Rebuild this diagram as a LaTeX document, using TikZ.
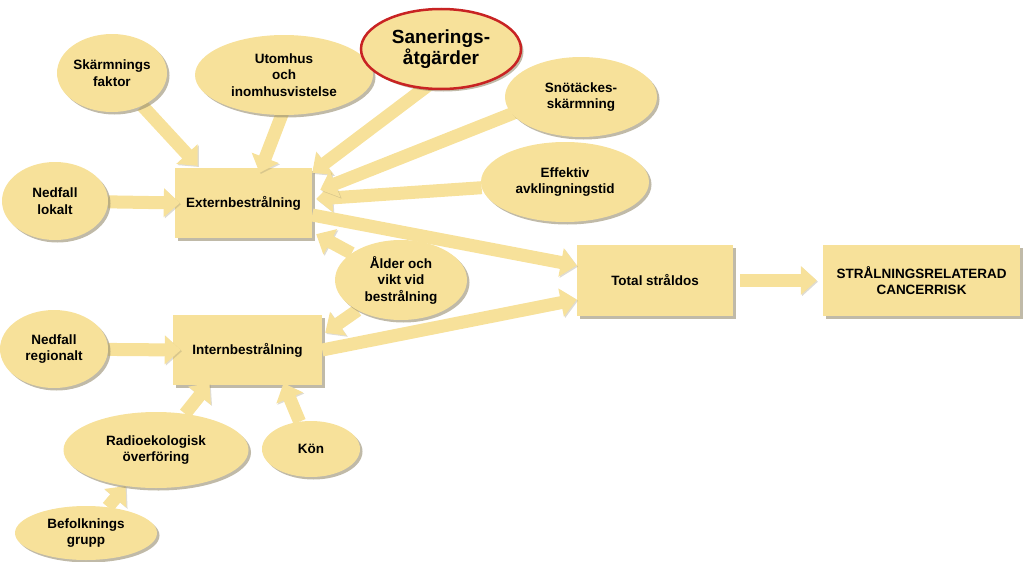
\documentclass[tikz,border=0pt]{standalone}
\usepackage{fontspec}
\setmainfont{Liberation Sans}
\usetikzlibrary{arrows.meta,shapes.geometric,shadows}
\definecolor{blobfill}{RGB}{247,225,154}
\definecolor{shade}{RGB}{150,140,110}
\definecolor{saneborder}{RGB}{200,35,35}
\pgfdeclarelayer{front}
\pgfsetlayers{main,front}
\tikzset {
  >=Triangle,
  every node/.style={font=\bfseries\fontsize{13.5}{16.5}\selectfont, align=center},
  blob/.style={ellipse, fill=blobfill, inner sep=0pt,
    drop shadow={shadow xshift=2.5pt, shadow yshift=-2.5pt, fill=shade, opacity=.6}},
  box/.style={rectangle, fill=blobfill, inner sep=0pt,
    drop shadow={shadow xshift=2.5pt, shadow yshift=-2.5pt, fill=shade, opacity=.6}},
  fat/.style={line width=13pt, draw=blobfill, -{Triangle[length=16pt,width=28pt]},
    preaction={draw=shade, opacity=.3, transform canvas={shift={(1.2pt,-1.2pt)}}}},
}

\begin{document}
\begin{tikzpicture}[x=1pt,y=-1pt]
  \useasboundingbox (0,0) rectangle (1023,562);

  % boxes
  \node[box,minimum width=137pt,minimum height=70pt] (extern) at (243.5,203) {Externbestrålning};
  \node[box,minimum width=149pt,minimum height=70pt] (intern) at (247.5,350) {Internbestrålning};
  \node[box,minimum width=156pt,minimum height=71pt] (total) at (655,280.5) {Total stråldos};
  \node[box,minimum width=197pt,minimum height=71pt] (cancer) at (921.5,280.5) {STRÅLNINGSRELATERAD\\CANCERRISK};

  % ellipses
  \begin{pgfonlayer}{front}
    \node[blob,minimum width=110pt,minimum height=78pt] (skarm) at (112,73) {Skärmnings\\faktor};
    \node[blob,minimum width=178pt,minimum height=80pt] (utom) at (284,75) {Utomhus\\och\\inomhusvistelse};
    \node[blob,minimum width=160pt,minimum height=80pt,draw=saneborder,line width=2.5pt,
      font=\bfseries\fontsize{19}{21}\selectfont] (sane) at (441,49) {Sanerings-\\åtgärder};
    \node[blob,minimum width=152pt,minimum height=80pt] (sno) at (581,97) {Snötäckes-\\skärmning};
    \node[blob,minimum width=168pt,minimum height=80pt] (eff) at (565,182) {Effektiv\\avklingningstid};
    \node[blob,minimum width=106pt,minimum height=78pt] (nlok) at (55,201) {Nedfall\\lokalt};
    \node[blob,minimum width=132pt,minimum height=80pt] (alder) at (401,280) {Ålder och\\vikt vid\\bestrålning};
    \node[blob,minimum width=108pt,minimum height=78pt] (nreg) at (54,349) {Nedfall\\regionalt};
    \node[blob,minimum width=185pt,minimum height=76pt] (radio) at (156,450) {Radioekologisk\\överföring};
    \node[blob,minimum width=98pt,minimum height=56pt] (kon) at (311,449) {Kön};
    \node[blob,minimum width=142pt,minimum height=54pt] (befolk) at (86,533) {Befolknings\\grupp};
  \end{pgfonlayer}

  % arrows into Externbestrålning
  \draw[fat] (nlok) -- ([xshift=5pt]extern.west);
  \draw[fat] (skarm) -- ([xshift=23pt,yshift=2pt]extern.north west);
  \draw[fat] ([yshift=6pt]utom.south) -- ([xshift=16pt,yshift=-5pt]extern.north);
  \draw[fat] ([yshift=6pt]sane.-105) -- ([yshift=-5pt]extern.north east);
  \draw[fat] (eff) -- ([xshift=4pt,yshift=4pt]extern.east);
  \draw[fat] ([xshift=6pt]sno.192) -- ([xshift=8pt,yshift=-22pt]extern.north east);
  \draw[fat] (alder) -- ([xshift=4pt,yshift=4pt]extern.south east);

  % arrows into Internbestrålning
  \draw[fat] (nreg) -- ([xshift=8pt]intern.west);
  \draw[fat] (alder) -- ([xshift=3pt,yshift=-18pt]intern.north east);
  \draw[fat] (radio) -- ([xshift=-38pt,yshift=2pt]intern.south);
  \draw[fat] (kon) -- ([xshift=36pt,yshift=2pt]intern.south);
  \draw[fat] (befolk) -- (radio);

  % dose and risk
  \draw[fat] ([yshift=-12pt]extern.east) -- ([yshift=15pt]total.west);
  \draw[fat] (intern.east) -- ([yshift=-19pt]total.west);
  \draw[fat,shorten <=7pt,shorten >=6pt] (total) -- (cancer);
\end{tikzpicture}
\end{document}
